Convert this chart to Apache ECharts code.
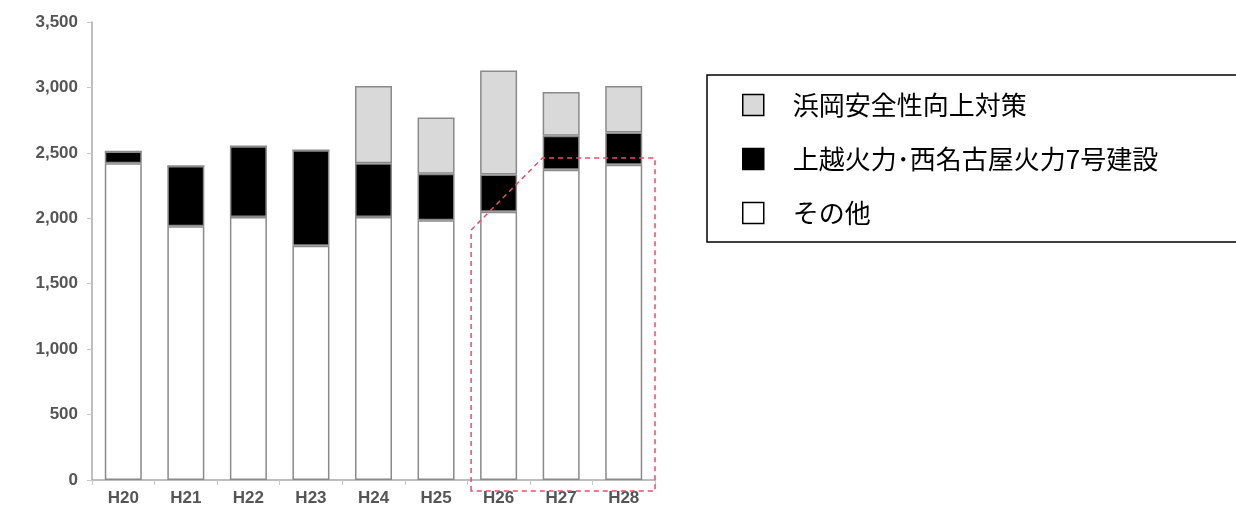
<!DOCTYPE html>
<html>
<head>
<meta charset="utf-8">
<script src="https://cdn.jsdelivr.net/npm/echarts@6/dist/echarts.min.js"></script>
<style>
  html, body { margin: 0; padding: 0; background: #fff; }
  #main { width: 1236px; height: 511px; }
</style>
</head>
<body>
<div id="main"></div>
<script>
// 年度
var categories = ['H20', 'H21', 'H22', 'H23', 'H24', 'H25', 'H26', 'H27', 'H28'];
// その他
var otherData = [2420, 1940, 2010, 1790, 2010, 1985, 2050, 2370, 2410];
// 上越火力・西名古屋火力7号建設
var thermalData = [90, 460, 540, 730, 410, 355, 285, 260, 245];
// 浜岡安全性向上対策
var hamaokaData = [0, 0, 0, 0, 590, 430, 795, 335, 355];
var yTicks = [0, 500, 1000, 1500, 2000, 2500, 3000, 3500];

var seriesNames = ['浜岡安全性向上対策', '上越火力･西名古屋火力7号建設', 'その他'];

var myChart = echarts.init(document.getElementById('main'));

var barBorder = {
	borderColor: '#8a8a8a',
	borderWidth: 1.5
};

var option = {
	backgroundColor: '#fff',
	animation: false,
	grid: {
		left: 92,
		right: 581,
		top: 22,
		bottom: 31
	},
	legend: {
		orient: 'vertical',
		left: 737,
		top: 87,
		itemWidth: 21,
		itemHeight: 21,
		itemGap: 28,
		selectedMode: false,
		icon: 'rect',
		textStyle: {
			fontFamily: 'Noto Sans CJK JP',
			fontSize: 26,
			color: '#000',
			padding: [0, 0, 0, 24]
		},
		data: [{
			name: seriesNames[0],
			itemStyle: { color: '#d9d9d9', borderColor: '#000', borderWidth: 1.5 }
		}, {
			name: seriesNames[1],
			itemStyle: { color: '#000', borderColor: '#000', borderWidth: 1.5 }
		}, {
			name: seriesNames[2],
			itemStyle: { color: '#fff', borderColor: '#000', borderWidth: 1.5 }
		}]
	},
	xAxis: {
		type: 'category',
		data: categories,
		axisLine: {
			lineStyle: { color: '#a8a8a8', width: 1.5 }
		},
		axisTick: {
			show: true,
			length: 5,
			lineStyle: { color: '#c8c8c8' }
		},
		axisLabel: {
			margin: 10,
			fontFamily: 'Liberation Sans',
			fontSize: 17,
			fontWeight: 'bold',
			color: '#555'
		}
	},
	yAxis: {
		type: 'value',
		min: 0,
		max: 3500,
		interval: 500,
		splitLine: { show: false },
		axisLine: {
			show: true,
			lineStyle: { color: '#a8a8a8', width: 1.5 }
		},
		axisTick: {
			show: true,
			length: 5,
			lineStyle: { color: '#c8c8c8' }
		},
		axisLabel: {
			margin: 14,
			fontFamily: 'Liberation Sans',
			fontSize: 17,
			fontWeight: 'bold',
			color: '#555',
			formatter: function (v) {
				return yTicks.indexOf(v) >= 0 ? v.toLocaleString('en-US') : '';
			}
		}
	},
	series: [{
		name: seriesNames[2],
		type: 'bar',
		stack: 'total',
		barWidth: 37,
		itemStyle: Object.assign({ color: '#fff' }, barBorder),
		data: otherData
	}, {
		name: seriesNames[1],
		type: 'bar',
		stack: 'total',
		barWidth: 37,
		itemStyle: Object.assign({ color: '#000' }, barBorder),
		data: thermalData
	}, {
		name: seriesNames[0],
		type: 'bar',
		stack: 'total',
		barWidth: 37,
		itemStyle: Object.assign({ color: '#d9d9d9' }, barBorder),
		data: hamaokaData
	}]
};

myChart.setOption(option);

// 凡例の枠と H26〜H28 を囲む赤い破線（軸の座標から求める）
var p = function (cat, val) {
	return myChart.convertToPixel({ seriesIndex: 0 }, [cat, val]);
};
var c26 = p('H26', 0), c27 = p('H27', 0), c28 = p('H28', 0);
var band = c28[0] - c27[0];
var base = c26[1];
var topY = p('H27', 2460)[1];
var slantY = p('H26', 1910)[1];
var leftX = c26[0] - 0.44 * band;
var midX = c27[0] - 0.3 * band;
var rightX = c28[0] + 0.5 * band;
var bottomY = base + 11;

myChart.setOption({
	graphic: [{
		type: 'rect',
		shape: { x: 707, y: 75, width: 560, height: 167 },
		style: { fill: 'none', stroke: '#000', lineWidth: 1.5 },
		z: 0
	}, {
		type: 'polygon',
		shape: {
			points: [
				[leftX, bottomY],
				[leftX, slantY],
				[midX, topY],
				[rightX, topY],
				[rightX, bottomY]
			]
		},
		style: {
			fill: 'none',
			stroke: '#e0506e',
			lineWidth: 1.5,
			lineDash: [5, 4]
		},
		z: 100
	}]
});
</script>
</body>
</html>
